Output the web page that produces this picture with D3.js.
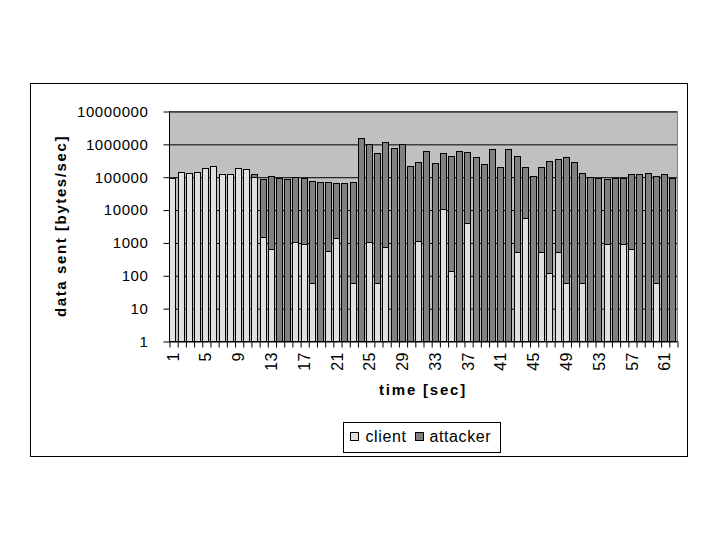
<!DOCTYPE html>
<html>
<head>
<meta charset="utf-8">
<script src="https://cdn.jsdelivr.net/npm/d3@7"></script>
<style>
  body { margin: 0; background: white; }
  svg text { font-family: "Liberation Sans", Arial, sans-serif; }
</style>
</head>
<body>
<div class="main_contain"></div>
<script>
// seconds 1..62
var seconds = d3.range(1, 63);

// bytes/sec sent by the client (0 = nothing)
var client = [93000, 141000, 128000, 141000, 182000, 209000, 120000, 120000, 182000, 170000,
  97000, 1470, 615, 0, 0, 1030, 870, 58, 0, 530,
  1370, 0, 58, 0, 1030, 58, 725, 0, 0, 0,
  1100, 0, 0, 10500, 134, 0, 3900, 0, 0, 0,
  0, 0, 500, 5600, 0, 500, 117, 500, 58, 0,
  58, 0, 0, 890, 0, 890, 630, 0, 0, 58,
  0, 0];

// bytes/sec sent by the attacker
var attacker = [0, 0, 0, 0, 0, 0, 0, 0, 0, 0,
  23000, 85500, 106400, 93000, 87000, 99000, 92100, 75900, 70000, 69500,
  64600, 66000, 69900, 1550000, 999000, 539900, 1099300, 760000, 1000000, 215000,
  288900, 600000, 270000, 529500, 424900, 600000, 571100, 410000, 250000, 690000,
  195000, 690000, 424500, 189400, 107000, 194500, 309900, 354500, 409900, 290000,
  131900, 97000, 93000, 86100, 93000, 92100, 119400, 120000, 132000, 106900,
  120000, 93000];

var yTicks = [1, 10, 100, 1000, 10000, 100000, 1000000, 10000000];
var xLabels = [1, 5, 9, 13, 17, 21, 25, 29, 33, 37, 41, 45, 49, 53, 57, 61];

function drawChart(container){
  var svg_width = 720;
  var svg_height = 540;
  var plot = {left: 169, right: 677, top: 111, bottom: 341};

  var svg = d3.select(container)
              .append("svg")
              .attr("width", svg_width)
              .attr("height", svg_height)
              .style("background", "white");

  // outer chart border
  svg.append("rect")
     .attr("x", 30.5)
     .attr("y", 83.5)
     .attr("width", 657)
     .attr("height", 373)
     .style("fill", "white")
     .style("stroke", "black");

  var x = d3.scaleBand()
            .domain(seconds)
            .range([plot.left, plot.right])
            .paddingInner(0.1)
            .paddingOuter(0.05);

  var xEdge = d3.scaleLinear()
                .domain([0, seconds.length])
                .range([plot.left, plot.right]);

  var y = d3.scaleLog()
            .domain([1, 10000000])
            .range([plot.bottom, plot.top]);

  // grey plot area
  svg.append("rect")
     .attr("x", plot.left + 0.5)
     .attr("y", plot.top + 0.5)
     .attr("width", plot.right - plot.left)
     .attr("height", plot.bottom - plot.top)
     .style("fill", "#c0c0c0")
     .style("stroke", "#808080");

  // gridlines behind the bars
  var yGridlines = d3.axisLeft()
                     .scale(y)
                     .tickValues(yTicks)
                     .tickSize(-(plot.right - plot.left))
                     .tickFormat("");

  svg.append("g")
     .attr("class", "grid")
     .attr("transform", "translate(" + plot.left + ",0.5)")
     .call(yGridlines)
     .call(g => g.select(".domain").remove())
     .selectAll("line")
     .style("stroke", "black");

  var rows = seconds.map((s, i) => ({sec: s, client: client[i], attacker: attacker[i]}));

  var bars = svg.append("g")
                .attr("class", "bars")
                .style("shape-rendering", "crispEdges");

  bars.selectAll("rect.client")
      .data(rows.filter(d => d.client >= 1))
      .enter()
      .append("rect")
      .attr("class", "client")
      .attr("x", d => Math.round(x(d.sec)) + 0.5)
      .attr("width", Math.round(x.bandwidth()) - 1)
      .attr("y", d => Math.round(y(d.client)) + 0.5)
      .attr("height", d => Math.round(y(1)) - Math.round(y(d.client)))
      .style("fill", "#e0e0e0")
      .style("stroke", "black");

  bars.selectAll("rect.attacker")
      .data(rows.filter(d => d.attacker > 0))
      .enter()
      .append("rect")
      .attr("class", "attacker")
      .attr("x", d => Math.round(x(d.sec)) + 0.5)
      .attr("width", Math.round(x.bandwidth()) - 1)
      .attr("y", d => Math.round(y(d.client + d.attacker)) + 0.5)
      .attr("height", d => Math.round(y(Math.max(d.client, 1))) - Math.round(y(d.client + d.attacker)))
      .style("fill", "#808080")
      .style("stroke", "black");

  // y axis
  var yAxisLeft = d3.axisLeft()
                    .scale(y)
                    .tickValues(yTicks)
                    .tickSize(6)
                    .tickPadding(15)
                    .tickFormat(d3.format("d"));

  svg.append("g")
     .attr("class", "y axis")
     .attr("transform", "translate(" + (plot.left + 0.5) + ",0.5)")
     .call(yAxisLeft)
     .call(g => g.select(".domain").attr("d", "M0," + plot.top + "V" + plot.bottom).style("stroke", "black"))
     .selectAll("text")
     .style("font-size", "15px")
     .style("letter-spacing", "0.6px")
     .style("fill", "black");

  // x axis: tick marks at the category edges
  var xTicks = d3.axisBottom()
                 .scale(xEdge)
                 .tickValues(d3.range(0, seconds.length + 1))
                 .tickSize(6)
                 .tickFormat("");

  svg.append("g")
     .attr("class", "x axis")
     .attr("transform", "translate(0.5," + (plot.bottom + 0.5) + ")")
     .call(xTicks)
     .call(g => g.select(".domain").attr("d", "M" + (plot.left - 0.5) + ",0H" + plot.right).style("stroke", "black"));

  svg.append("g")
     .attr("class", "x labels")
     .selectAll("text")
     .data(xLabels)
     .enter()
     .append("text")
     .attr("transform", d => "translate(" + (x(d) + x.bandwidth() / 2) + "," + (plot.bottom + 11) + ") rotate(-90)")
     .attr("text-anchor", "end")
     .attr("dy", "0.35em")
     .style("font-size", "16px")
     .style("letter-spacing", "0.5px")
     .text(d => d);

  // axis titles
  svg.append("text")
     .attr("transform", "translate(66," + ((plot.top + plot.bottom) / 2) + ") rotate(-90)")
     .attr("text-anchor", "middle")
     .style("font-size", "15px")
     .style("font-weight", "bold")
     .style("letter-spacing", "1.6px")
     .text("data sent [bytes/sec]");

  svg.append("text")
     .attr("x", (plot.left + plot.right) / 2)
     .attr("y", 395)
     .attr("text-anchor", "middle")
     .style("font-size", "15px")
     .style("font-weight", "bold")
     .style("letter-spacing", "1.8px")
     .text("time [sec]");

  // legend
  var legend = svg.append("g")
                  .attr("class", "legend")
                  .attr("transform", "translate(343.5,422.5)");

  legend.append("rect")
        .attr("width", 157)
        .attr("height", 30)
        .style("fill", "white")
        .style("stroke", "black");

  var legendItems = [
    {name: "client", color: "#e0e0e0", x: 7, tx: 22},
    {name: "attacker", color: "#808080", x: 72, tx: 86}
  ];

  legendItems.forEach(function(item){
    legend.append("rect")
          .attr("x", item.x)
          .attr("y", 10)
          .attr("width", 8)
          .attr("height", 8)
          .style("fill", item.color)
          .style("stroke", "black");
    legend.append("text")
          .attr("x", item.tx)
          .attr("y", 19)
          .style("font-size", "16px")
          .style("letter-spacing", "0.6px")
          .text(item.name);
  });
}

drawChart(".main_contain");
</script>
</body>
</html>
